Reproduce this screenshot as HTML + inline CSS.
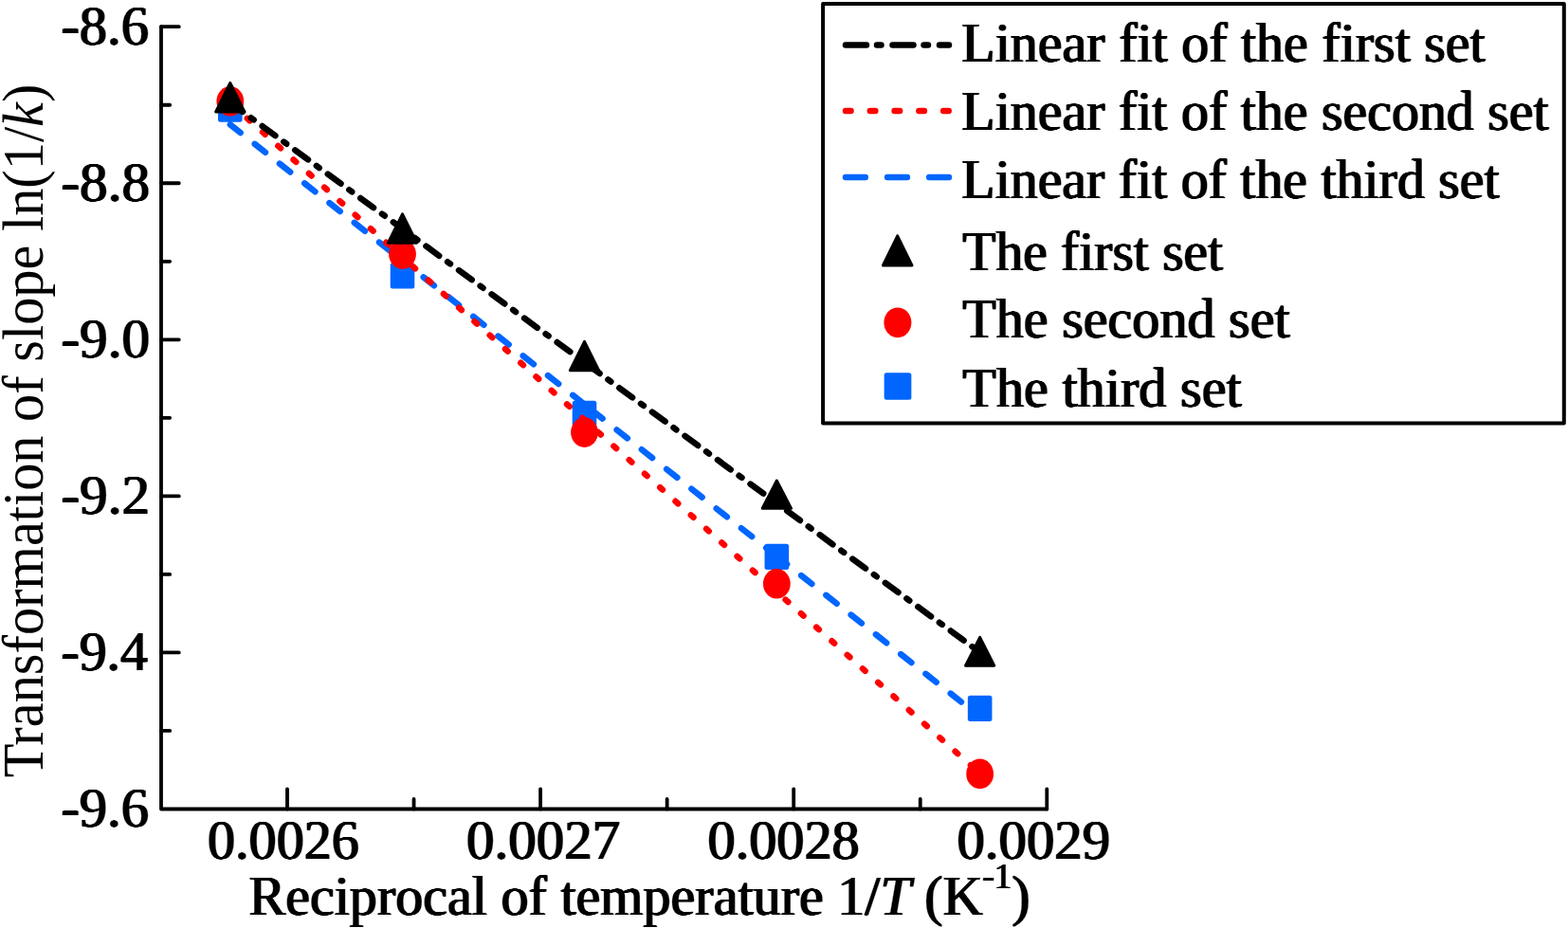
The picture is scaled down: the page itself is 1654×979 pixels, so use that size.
<!DOCTYPE html><html><head><meta charset="utf-8"><title>Arrhenius plot of slope transformation</title><style>html,body{margin:0;padding:0;background:#fff;overflow:hidden;}svg{display:block;}text{font-family:"Liberation Serif","Times New Roman",serif;fill:#000;}</style></head><body>
<svg width="1654" height="979" viewBox="0 0 1654 979">
<defs><filter id="hb" x="-3%" y="-3%" width="106%" height="106%" color-interpolation-filters="sRGB"><feConvolveMatrix order="3 1" kernelMatrix="0.75 1 0.75" divisor="1" edgeMode="none"/></filter></defs>
<rect x="0" y="0" width="1654" height="979" fill="#fff"/>
<g stroke="#0066ff" stroke-width="6.5" stroke-linecap="round" stroke-dasharray="14.3 19.17"><line x1="242.80" y1="131.39" x2="424.50" y2="274.90" stroke-dashoffset="0.44"/><line x1="424.50" y1="274.90" x2="616.50" y2="426.54" stroke-dashoffset="5.23"/><line x1="616.50" y1="426.54" x2="819.35" y2="586.74" stroke-dashoffset="23.47"/><line x1="819.35" y1="586.74" x2="1033.65" y2="756.00" stroke-dashoffset="0.57"/></g>
<rect x="230.00" y="101.40" width="25.6" height="27.3" rx="2.5" fill="#0066ff"/>
<rect x="411.70" y="277.30" width="25.6" height="27.3" rx="2.5" fill="#0066ff"/>
<rect x="603.70" y="422.80" width="25.6" height="27.3" rx="2.5" fill="#0066ff"/>
<rect x="806.55" y="573.70" width="25.6" height="27.3" rx="2.5" fill="#0066ff"/>
<rect x="1020.85" y="733.80" width="25.6" height="27.3" rx="2.5" fill="#0066ff"/>
<g stroke="#ff0000" stroke-width="6.5" stroke-linecap="round" stroke-dasharray="3.6 18.23"><line x1="242.80" y1="108.74" x2="424.50" y2="271.23" stroke-dashoffset="19.52"/><line x1="424.50" y1="271.23" x2="616.50" y2="442.94" stroke-dashoffset="7.28"/><line x1="616.50" y1="442.94" x2="819.35" y2="624.34" stroke-dashoffset="2.15"/><line x1="819.35" y1="624.34" x2="1033.65" y2="815.99" stroke-dashoffset="9.38"/></g>
<ellipse cx="242.80" cy="106.80" rx="14.4" ry="15.8" fill="#ff0000"/>
<ellipse cx="424.50" cy="268.10" rx="14.4" ry="15.8" fill="#ff0000"/>
<ellipse cx="616.50" cy="456.10" rx="14.4" ry="15.8" fill="#ff0000"/>
<ellipse cx="819.35" cy="615.80" rx="14.4" ry="15.8" fill="#ff0000"/>
<ellipse cx="1033.65" cy="816.40" rx="14.4" ry="15.8" fill="#ff0000"/>
<g stroke="#000" stroke-width="6.5" stroke-linecap="round" stroke-dasharray="17 11 3.6 11.23"><line x1="242.80" y1="108.18" x2="424.50" y2="241.42" stroke-dashoffset="0.80"/><line x1="424.50" y1="241.42" x2="616.50" y2="382.21" stroke-dashoffset="11.85"/><line x1="616.50" y1="382.21" x2="819.35" y2="530.96" stroke-dashoffset="39.92"/><line x1="819.35" y1="530.96" x2="1033.65" y2="688.11" stroke-dashoffset="29.39"/></g>
<polygon points="242.80,87.52 257.90,118.00 227.70,118.00" fill="#000" stroke="#000" stroke-width="3.0" stroke-linejoin="round"/>
<polygon points="424.50,225.82 439.60,256.20 409.40,256.20" fill="#000" stroke="#000" stroke-width="3.0" stroke-linejoin="round"/>
<polygon points="616.50,360.33 631.60,390.70 601.40,390.70" fill="#000" stroke="#000" stroke-width="3.0" stroke-linejoin="round"/>
<polygon points="819.35,507.03 834.45,536.30 804.25,536.30" fill="#000" stroke="#000" stroke-width="3.0" stroke-linejoin="round"/>
<polygon points="1033.65,672.43 1048.75,702.20 1018.55,702.20" fill="#000" stroke="#000" stroke-width="3.0" stroke-linejoin="round"/>
<path d="M170.0,28.2 L170.0,853.5 L1104.3,853.5" fill="none" stroke="#000" stroke-width="3.8" stroke-linejoin="round" stroke-linecap="round"/>
<path d="M170.0,28.20h18.8 M170.0,110.73h9.2 M170.0,193.26h18.8 M170.0,275.79h9.2 M170.0,358.32h18.8 M170.0,440.85h9.2 M170.0,523.38h18.8 M170.0,605.91h9.2 M170.0,688.44h18.8 M170.0,770.97h9.2 M303.00,853.5v-21.2 M436.55,853.5v-10.5 M570.10,853.5v-21.2 M703.65,853.5v-10.5 M837.20,853.5v-21.2 M970.75,853.5v-10.5 M1104.30,853.5v-21.2" fill="none" stroke="#000" stroke-width="3.8" stroke-linecap="round"/>
<rect x="868.1" y="4.1" width="781.7" height="442.4" fill="none" stroke="#000" stroke-width="4" stroke-linejoin="round"/>
<line x1="892" y1="47.6" x2="1001" y2="47.6" stroke="#000" stroke-width="6.5" stroke-linecap="round" stroke-dasharray="22 11 4.5 12"/>
<line x1="892" y1="117" x2="1001" y2="117" stroke="#ff0000" stroke-width="6.5" stroke-linecap="round" stroke-dasharray="5.5 20.3"/>
<line x1="892" y1="187.1" x2="1001" y2="187.1" stroke="#0066ff" stroke-width="6.5" stroke-linecap="round" stroke-dasharray="20.8 23.3"/>
<polygon points="946.70,248.92 961.95,280.00 931.45,280.00" fill="#000" stroke="#000" stroke-width="3.0" stroke-linejoin="round"/>
<ellipse cx="946.90" cy="340.30" rx="14.5" ry="15.85" fill="#ff0000"/>
<rect x="932.65" y="393.25" width="28.7" height="28.5" rx="2.5" fill="#0066ff"/>
<g filter="url(#hb)">
<text x="64.40" y="47.00" font-size="60" textLength="92.55" lengthAdjust="spacingAndGlyphs">-8.6</text>
<text x="64.40" y="212.06" font-size="60" textLength="93.57" lengthAdjust="spacingAndGlyphs">-8.8</text>
<text x="64.40" y="377.12" font-size="60" textLength="93.57" lengthAdjust="spacingAndGlyphs">-9.0</text>
<text x="64.40" y="542.18" font-size="60" textLength="93.60" lengthAdjust="spacingAndGlyphs">-9.2</text>
<text x="64.40" y="707.24" font-size="60" textLength="91.51" lengthAdjust="spacingAndGlyphs">-9.4</text>
<text x="64.40" y="872.30" font-size="60" textLength="92.55" lengthAdjust="spacingAndGlyphs">-9.6</text>
<text x="219.00" y="906.40" font-size="60" textLength="159.82" lengthAdjust="spacingAndGlyphs">0.0026</text>
<text x="492.10" y="906.40" font-size="60" textLength="162.04" lengthAdjust="spacingAndGlyphs">0.0027</text>
<text x="746.50" y="906.40" font-size="60" textLength="160.25" lengthAdjust="spacingAndGlyphs">0.0028</text>
<text x="1009.40" y="906.40" font-size="60" textLength="161.75" lengthAdjust="spacingAndGlyphs">0.0029</text>
<text x="262.40" y="964.90" font-size="60" textLength="824.21" lengthAdjust="spacingAndGlyphs">Reciprocal of temperature 1/<tspan font-style="italic">T</tspan> (K<tspan font-size="38" dy="-27.5">-1</tspan><tspan dy="27.5">)</tspan></text>
</g><text transform="translate(44.70,820.20) rotate(-90)" x="0" y="0" font-size="62" textLength="731.61" lengthAdjust="spacingAndGlyphs">Transformation of slope ln(1/<tspan font-style="italic">k</tspan>)</text><g filter="url(#hb)">
<text x="1014.30" y="64.80" font-size="60" textLength="552.40" lengthAdjust="spacingAndGlyphs">Linear fit of the first set</text>
<text x="1014.30" y="136.60" font-size="60" textLength="619.40" lengthAdjust="spacingAndGlyphs">Linear fit of the second set</text>
<text x="1014.30" y="208.90" font-size="60" textLength="567.30" lengthAdjust="spacingAndGlyphs">Linear fit of the third set</text>
<text x="1015.30" y="284.90" font-size="60" textLength="274.80" lengthAdjust="spacingAndGlyphs">The first set</text>
<text x="1015.30" y="356.40" font-size="60" textLength="345.31" lengthAdjust="spacingAndGlyphs">The second set</text>
<text x="1015.30" y="428.60" font-size="60" textLength="294.41" lengthAdjust="spacingAndGlyphs">The third set</text>
</g>
</svg></body></html>
